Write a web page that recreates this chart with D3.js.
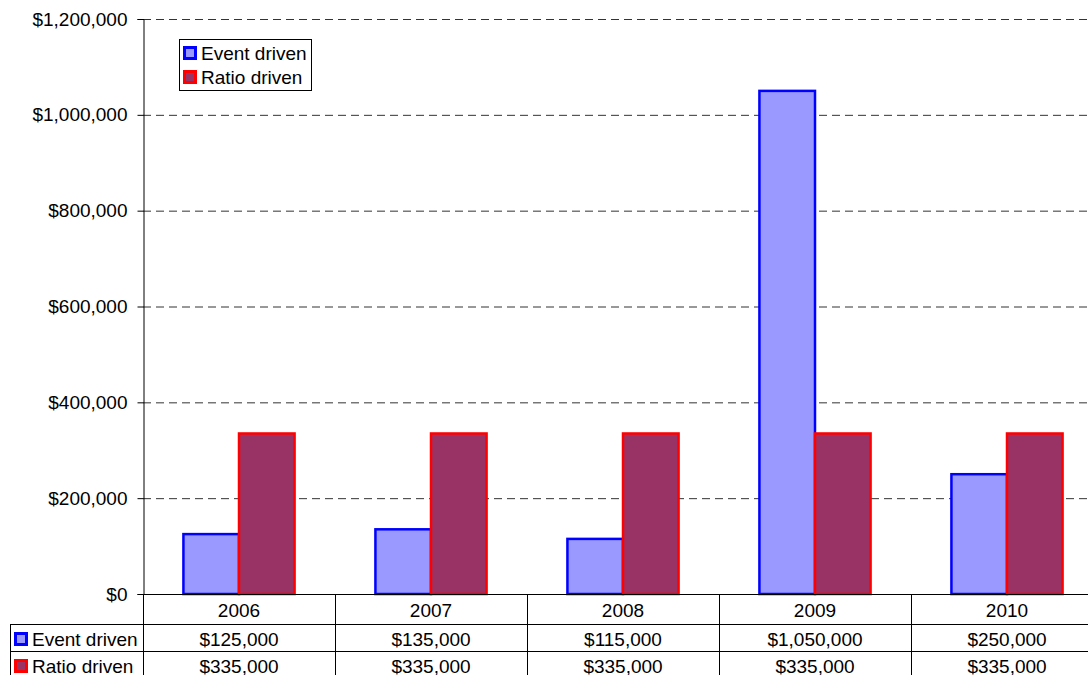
<!DOCTYPE html>
<html><head><meta charset="utf-8">
<script src="https://d3js.org/d3.v7.min.js"></script>
<style>body{margin:0;background:#fff}svg{display:block}text{font-family:"Liberation Sans",Arial,sans-serif;fill:#000}</style>
</head><body>
<script>
const categories = ["2006","2007","2008","2009","2010"];
const eventDriven = [125000,135000,115000,1050000,250000];
const ratioDriven = [335000,335000,335000,335000,335000];
const seriesNames = ["Event driven","Ratio driven"];
const yTicks = [0,200000,400000,600000,800000,1000000,1200000];

(function(){
const W=1088,H=675, FS="19px";
const mLeft=143, mTop=19, mBottom=594, band=192;
const fills=["#9999FF","#993366"], strokes=["#0000FF","#FF0000"];
const svg=d3.select("body").append("svg").attr("width",W).attr("height",H);

const x=d3.scaleBand().domain(categories).range([mLeft,mLeft+band*categories.length]).paddingInner(0).paddingOuter(0);
const y=d3.scaleLinear().domain([0,1200000]).range([mBottom,mTop]);
const fmt=v=>"$"+d3.format(",")(v);

// gridlines
svg.append("g").selectAll("line").data(yTicks.filter(d=>d>0)).join("line")
  .attr("x1",mLeft).attr("x2",W).attr("y1",d=>y(d)+0.5).attr("y2",d=>y(d)+0.5)
  .attr("stroke","#333").attr("stroke-width",1).attr("stroke-dasharray","8,5");

// y axis
const ya=svg.append("g").attr("transform",`translate(${mLeft+0.5},0)`)
  .call(d3.axisLeft(y).tickValues(yTicks).tickFormat(fmt).tickSize(6).tickPadding(10));
ya.select(".domain").attr("stroke","#000");
ya.selectAll(".tick line").attr("stroke","#000");
ya.selectAll("text").style("font-size",FS).attr("font-family","Liberation Sans, Arial, sans-serif");

// bars
const inner=d3.scaleBand().domain([0,1]).range([0,band]).paddingOuter(0.7272).paddingInner(0);
const series=[eventDriven,ratioDriven];
series.forEach((vals,si)=>{
  svg.append("g").selectAll("rect").data(vals).join("rect")
    .attr("x",(d,i)=>x(categories[i])+inner(si))
    .attr("width",inner.bandwidth())
    .attr("y",d=>y(d)).attr("height",d=>mBottom-y(d))
    .attr("fill",fills[si]).attr("stroke",strokes[si]).attr("stroke-width",2.5);
});

// x axis line
svg.append("line").attr("x1",mLeft).attr("x2",W).attr("y1",mBottom+0.5).attr("y2",mBottom+0.5).attr("stroke","#000");

// data table
const rowY=[594,624,651];
const g=svg.append("g").attr("stroke","#000").attr("stroke-width",1);
g.append("line").attr("x1",10).attr("x2",W).attr("y1",rowY[1]+0.5).attr("y2",rowY[1]+0.5);
g.append("line").attr("x1",10).attr("x2",W).attr("y1",rowY[2]+0.5).attr("y2",rowY[2]+0.5);
g.append("line").attr("x1",10.5).attr("x2",10.5).attr("y1",rowY[1]).attr("y2",H);
const bounds=categories.map(c=>x(c)).concat([x(categories[categories.length-1])+band]);
g.selectAll(".v").data(bounds).join("line").attr("x1",d=>d+0.5).attr("x2",d=>d+0.5).attr("y1",rowY[0]).attr("y2",H);

svg.append("g").selectAll("text").data(categories).join("text")
  .attr("x",d=>x(d)+band/2).attr("y",617).attr("text-anchor","middle").style("font-size",FS).text(d=>d);
series.forEach((vals,si)=>{
  const ty=[646,673][si];
  svg.append("g").selectAll("text").data(vals).join("text")
    .attr("x",(d,i)=>x(categories[i])+band/2).attr("y",ty).attr("text-anchor","middle").style("font-size",FS).text(fmt);
  svg.append("rect").attr("x",15.5).attr("y",ty-12.5).attr("width",11).attr("height",11)
    .attr("fill",fills[si]).attr("stroke",strokes[si]).attr("stroke-width",3);
  svg.append("text").attr("x",32).attr("y",ty).style("font-size",FS).text(seriesNames[si]);
});

// legend
const lg=svg.append("g");
lg.append("rect").attr("x",179.5).attr("y",39.5).attr("width",132).attr("height",51).attr("fill","#fff").attr("stroke","#000");
seriesNames.forEach((n,si)=>{
  const ly=[60,84][si];
  lg.append("rect").attr("x",184.5).attr("y",ly-12.5).attr("width",11).attr("height",11)
    .attr("fill",fills[si]).attr("stroke",strokes[si]).attr("stroke-width",3);
  lg.append("text").attr("x",201).attr("y",ly).style("font-size",FS).text(n);
});
})();
</script>
</body></html>
